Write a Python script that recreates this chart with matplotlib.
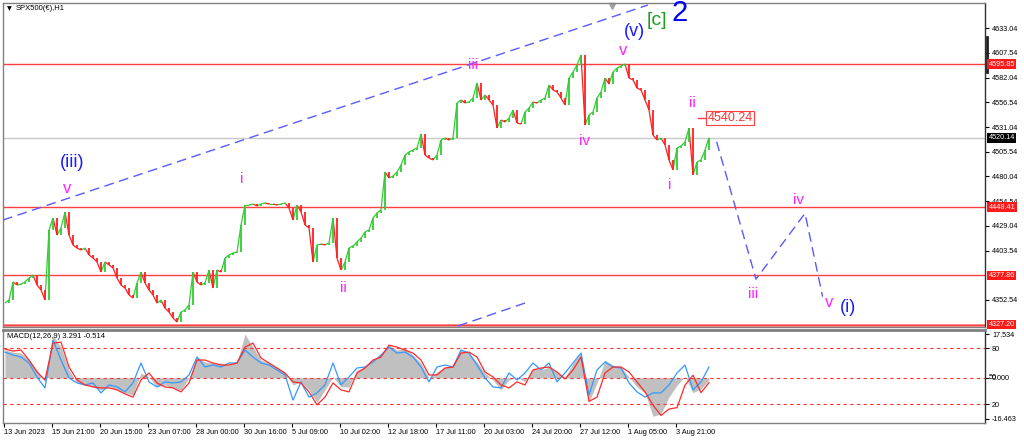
import numpy as np
import matplotlib
matplotlib.use("Agg")
import matplotlib.pyplot as plt
from matplotlib.collections import LineCollection

plt.rcParams['font.family'] = ['Liberation Sans', 'DejaVu Sans']

# ----
# Data read off the chart (H1 closes, sampled every 4 bars)
# ----
closes = [
    4349.4, 4352.5, 4371.1, 4368.0, 4369.0, 4371.1, 4375.2, 4378.3, 4368.0, 4362.9,
    4352.5, 4424.8, 4437.2, 4419.6, 4426.9, 4443.4, 4419.6, 4409.3, 4406.2, 4404.1,
    4406.2, 4399.0, 4395.9, 4391.8, 4381.4, 4391.8, 4388.7, 4385.6, 4375.2, 4368.0,
    4364.9, 4357.7, 4354.6, 4370.1, 4381.4, 4370.1, 4362.9, 4357.7, 4349.4, 4352.5,
    4344.2, 4340.1, 4334.0, 4329.8, 4340.1, 4342.2, 4347.4, 4381.4, 4371.1, 4368.0,
    4370.1, 4383.5, 4364.9, 4383.5, 4381.4, 4395.9, 4399.0, 4401.1, 4402.1, 4430.0,
    4450.6, 4450.6, 4451.6, 4449.6, 4451.6, 4452.7, 4451.6, 4451.6, 4450.6, 4451.6,
    4452.7, 4447.5, 4435.1, 4450.6, 4443.4, 4430.0, 4426.9, 4391.8, 4409.3, 4410.4,
    4409.3, 4411.4, 4437.2, 4395.9, 4383.5, 4391.8, 4406.2, 4408.3, 4412.4, 4416.5,
    4422.7, 4424.8, 4437.2, 4442.4, 4445.5, 4484.7, 4478.5, 4480.5, 4484.7, 4491.9,
    4502.2, 4505.3, 4507.4, 4509.5, 4523.9, 4502.2, 4499.1, 4497.1, 4502.2, 4517.7,
    4519.8, 4517.7, 4519.8, 4555.9, 4559.0, 4555.9, 4557.0, 4561.1, 4576.6, 4559.0,
    4564.2, 4559.0, 4553.9, 4530.1, 4538.4, 4536.3, 4540.4, 4548.7, 4535.3, 4534.2,
    4546.6, 4550.8, 4556.9, 4555.9, 4559.0, 4561.1, 4574.5, 4569.4, 4567.3, 4561.1,
    4553.9, 4581.7, 4587.9, 4595.1, 4605.5, 4533.2, 4543.5, 4546.6, 4561.1, 4567.3,
    4581.7, 4575.5, 4587.9, 4592.0, 4594.1, 4596.2, 4581.7, 4579.7, 4571.4, 4569.4,
    4559.0, 4548.7, 4522.9, 4517.7, 4519.8, 4512.6, 4497.1, 4486.8, 4509.5, 4511.5,
    4515.6, 4530.1, 4481.6, 4495.0, 4497.1, 4507.4, 4520.1,
]

# MACD panel, sampled every 8 bars
macd_hist = [
    11.1, 10.3, 9.9, 7.1, 3.1, -1.7, 17.1, 12.3, 3.1, -2.1,
    -2.9, -3.7, -4.9, -3.7, -4.9, -6.1, -6.9, 1.9, 0.3, -3.7,
    -2.9, -4.1, -4.9, -0.1, 8.3, 6.3, 5.9, 5.9, 5.1, 6.3,
    17.5, 12.3, 7.1, 5.9, 3.9, 1.9, -2.9, -1.7, -4.9, -9.8,
    -4.9, 0.3, -3.7, -3.7, 3.1, 4.3, 7.1, 9.1, 13.1, 11.1,
    11.9, 9.1, 5.9, -0.1, 2.3, 4.3, 5.1, 11.1, 9.9, 6.3,
    1.9, -0.9, -4.9, -0.9, 0.3, -1.7, 3.9, 3.1, 4.3, 2.3,
    -0.1, 5.9, 9.9, -9.8, -2.1, 7.1, 5.1, 4.3, 0.3, -3.7,
    -6.1, -15.5, -14.5, -7.8, -3.0, 0.5, -6.0, -4.5, -1.0,
]
macd_signal = [
    11.5, 10.7, 11.1, 7.1, 2.3, -0.9, 13.9, 14.3, 4.3, -0.9,
    -2.9, -3.7, -4.1, -4.1, -4.9, -6.5, -7.8, -0.9, 1.9, -2.1,
    -3.7, -4.1, -5.7, -2.1, 7.1, 7.1, 5.9, 5.1, 5.1, 5.9,
    12.3, 13.9, 7.9, 5.9, 3.9, 1.9, -1.7, -2.1, -5.7, -10.9,
    -7.8, -2.1, -4.9, -5.7, 1.9, 3.9, 7.1, 8.3, 13.1, 12.3,
    11.1, 9.9, 7.1, 1.1, 1.1, 3.9, 4.3, 9.9, 10.3, 8.3,
    2.3, 0.3, -2.9, -4.1, -1.7, -2.9, 3.1, 3.9, 4.3, 2.3,
    -0.5, 3.1, 8.3, -9.5, -7.8, 1.9, 4.3, 4.3, 2.3, -1.7,
    -5.7, -11.0, -15.2, -12.6, -12.0, -3.0, 1.0, -6.0, -2.0,
]
macd_fast = [
    10.3, 9.1, 8.3, 5.9, 0.3, -4.1, 15.1, 7.1, -0.1, -2.1,
    -2.9, -2.1, -6.1, -2.9, -3.7, -5.7, -2.1, 5.9, -1.7, -3.7,
    -1.7, -2.1, -1.7, 1.1, 8.3, 4.3, 5.1, 4.3, 5.9, 5.9,
    11.1, 8.3, 5.9, 5.1, 3.1, 1.1, -9.0, -1.7, -7.8, -6.1,
    -2.9, 5.9, -2.9, 0.3, 3.9, 4.3, 6.3, 9.1, 12.3, 9.9,
    10.3, 8.3, 4.3, -1.7, 4.3, 5.1, 4.3, 11.1, 9.9, 5.1,
    -0.1, -3.7, -4.1, 1.9, -0.9, 1.9, 5.9, 3.1, 5.9, -1.7,
    1.9, 5.9, 9.9, -6.9, 3.1, 6.3, 4.3, 3.9, -2.1, -5.7,
    -7.8, -6.1, -6.1, -2.9, 1.9, 5.1, -4.9, -1.7, 4.3,
]

date_labels = ["13 Jun 2023", "15 Jun 21:00", "20 Jun 15:00", "23 Jun 07:00",
               "28 Jun 00:00", "30 Jun 16:00", "5 Jul 09:00", "10 Jul 02:00",
               "12 Jul 18:00", "17 Jul 11:00", "20 Jul 03:00", "24 Jul 20:00",
               "27 Jul 12:00", "1 Aug 05:00", "3 Aug 21:00"]
price_ticks = [4633.04, 4607.54, 4582.04, 4556.54, 4531.04, 4505.54, 4480.04,
               4454.54, 4429.04, 4403.54, 4352.54]
red_levels = [4595.85, 4448.41, 4377.86, 4327.20]
last_price = 4520.14
target_price = 4540.24

# trend channel and projected path (bar index, price)
channel_upper = ([-0.5, 160.75], [4435.1, 4657.1])
channel_lower = ([113.25, 130.0], [4325.7, 4349.4])
projection = ([177.9, 187.75, 200.0, 204.4], [4516.0, 4374.0, 4442.0, 4356.0])

MAG = '#ff22ff'
BLU = '#1a1aff'
wave_labels = [
    ("(iii)", 16.75, 4494.0, BLU, 13),
    ("v", 15.5, 4468.0, MAG, 12),
    ("i", 59.25, 4477.0, MAG, 11),
    ("ii", 84.5, 4365.0, MAG, 11),
    ("iii", 117.0, 4595.0, MAG, 11),
    ("iv", 145.0, 4517.0, MAG, 11),
    ("v", 154.5, 4610.5, MAG, 12),
    ("(v)", 157.25, 4630.2, BLU, 13),
    ("[c]", 163.0, 4640.6, '#1e9e1e', 14),
    ("2", 168.75, 4648.8, '#0000ff', 21),
    ("ii", 171.75, 4556.0, MAG, 11),
    ("i", 166.25, 4471.0, MAG, 11),
    ("iii", 187.0, 4359.0, MAG, 11),
    ("iv", 198.5, 4456.0, MAG, 11),
    ("v", 206.0, 4349.5, MAG, 12),
    ("(i)", 210.75, 4344.3, BLU, 13),
]

# ----
# Figure layout (pixel based panels)
# ----
W, H = 1024, 441
fig = plt.figure(figsize=(W / 100, H / 100), dpi=100)


def rect(l, t, r, b):
    return [l / W, 1 - b / H, (r - l) / W, (b - t) / H]


ax = fig.add_axes(rect(3, 3, 985, 327))
ax2 = fig.add_axes(rect(3, 330, 985, 423), sharex=ax)

ax.set_xlim(-0.5, 245)
ax.set_ylim(4324.66, 4659.15)
ax2.set_ylim(-18.19, 19.16)

# ----
# Candles: each bar goes from previous close to close,
# joined by a thin line so it reads like dense H1 bars
# ----
c = np.array(closes)
o = np.concatenate([[c[0]], c[:-1]])
xb = np.arange(len(c)) * 1.0
up = c >= o
GRN, RED = '#33cc33', '#ff2020'
segs = [[(xb[i] - 1, c[i - 1]), (xb[i], c[i])] for i in range(1, len(c))]
seg_cols = [GRN if c[i] >= c[i - 1] else RED for i in range(1, len(c))]
ax.add_collection(LineCollection(segs, colors=seg_cols, lw=0.9, zorder=3))
ax.vlines(xb[up], o[up], c[up], color=GRN, lw=1.3, zorder=3)
ax.vlines(xb[~up], o[~up], c[~up], color=RED, lw=1.3, zorder=3)

# horizontal levels
for lv in red_levels:
    if lv == 4327.20:
        ax.axhline(lv, color='#ffa0a0', lw=2.2, zorder=2)
    ax.axhline(lv, color='#ff4040', lw=1.0, zorder=2)
ax.axhline(last_price, color='#c8c8c8', lw=1.0, zorder=1)

# channel and projection
for xs, ys in [channel_upper, channel_lower, projection]:
    ax.plot(xs, ys, color='#5a5aff', lw=1.0, dashes=(7, 4), zorder=4)

# wave labels
for txt, bx, py, col, sz in wave_labels:
    ax.text(bx, py, txt, color=col, fontsize=sz, ha='center', va='center', zorder=6)

# target box
ax.plot([173.25, 175.25], [target_price, target_price], color='#ff4040', lw=1.0)
ax.text(175.6, target_price, f"{target_price:.2f}", color='#ff3030', fontsize=9,
        ha='left', va='center', zorder=6,
        bbox=dict(boxstyle='square,pad=0.1', fc='white', ec='#ff4040', lw=0.8))

# little marker on top and title
ax.plot([151.75], [4656.5], marker='v', color='#a0a0a0', ms=4, clip_on=False)
ax.text(0.004, 0.982, "\u25bc", transform=ax.transAxes, fontsize=4.5,
        ha='left', va='center', family='DejaVu Sans')
ax.text(0.013, 0.982, "SPX500(\u20ac),H1", transform=ax.transAxes, fontsize=5.5,
        ha='left', va='center')

# ----
# Price axis
# ----
ax.yaxis.tick_right()
ax.set_yticks(price_ticks)
ax.set_yticklabels([f"{p:.2f}" for p in price_ticks])
ax.tick_params(axis='y', labelsize=5.2, length=3, pad=2, colors='black')
ax.tick_params(axis='x', bottom=False, labelbottom=False)

for lv in red_levels:
    ax.text(1.0035, lv, f"{lv:.2f}", transform=ax.get_yaxis_transform(),
            color='white', fontsize=5.2, ha='left', va='center', clip_on=False,
            zorder=10, bbox=dict(boxstyle='square,pad=0.2', fc='#ff1a1a', ec='none'))
ax.text(1.0035, last_price, f"{last_price:.2f}", transform=ax.get_yaxis_transform(),
        color='white', fontsize=5.2, ha='left', va='center', clip_on=False,
        zorder=10, bbox=dict(boxstyle='square,pad=0.2', fc='black', ec='none'))
ax.plot([1.002, 1.002], [4624, 4588], transform=ax.get_yaxis_transform(),
        color='#202020', lw=2, clip_on=False)

# ----
# MACD panel
# ----
xm = np.arange(len(macd_hist)) * 2.0
ax2.fill_between(xm, 0, macd_hist, color='#c0c0c0', lw=0, zorder=1)
ax2.plot(xm, macd_fast, color='#3399ff', lw=0.9, zorder=3)
ax2.plot(xm, macd_signal, color='#ff2a2a', lw=0.9, zorder=4)
for lv in [11.8, 0.0, -10.7]:
    ax2.axhline(lv, color='#ff3030', lw=0.8, dashes=(3, 3), zorder=2)

ax2.text(0.004, 0.93, "MACD(12,26,9) 3.291 -0.514", transform=ax2.transAxes,
         fontsize=5.5, ha='left', va='center')

ax2.yaxis.tick_right()
ax2.set_yticks([17.534, 11.8, 0.0, -10.7, -16.463])
ax2.set_yticklabels(["17.534", "80", "0.000", "20", "-16.463"])
ax2.tick_params(axis='y', labelsize=5.2, length=3, pad=2)
ax2.text(1.0035, 0.0, "50", transform=ax2.get_yaxis_transform(), fontsize=5.2,
         ha='left', va='center', clip_on=False)

date_pos = [12 * k - 0.25 for k in range(len(date_labels))]
ax2.set_xticks(date_pos)
ax2.set_xticklabels(date_labels, ha='left')
ax2.tick_params(axis='x', labelsize=5.3, length=3, pad=1.5)

for a in (ax, ax2):
    for s in a.spines.values():
        s.set_color('#808080')
        s.set_linewidth(1.0)
    a.spines['right'].set_color('#303030')
ax2.spines['top'].set_linewidth(2.0)

plt.savefig("out.png", dpi=100, facecolor='white')
plt.close()
